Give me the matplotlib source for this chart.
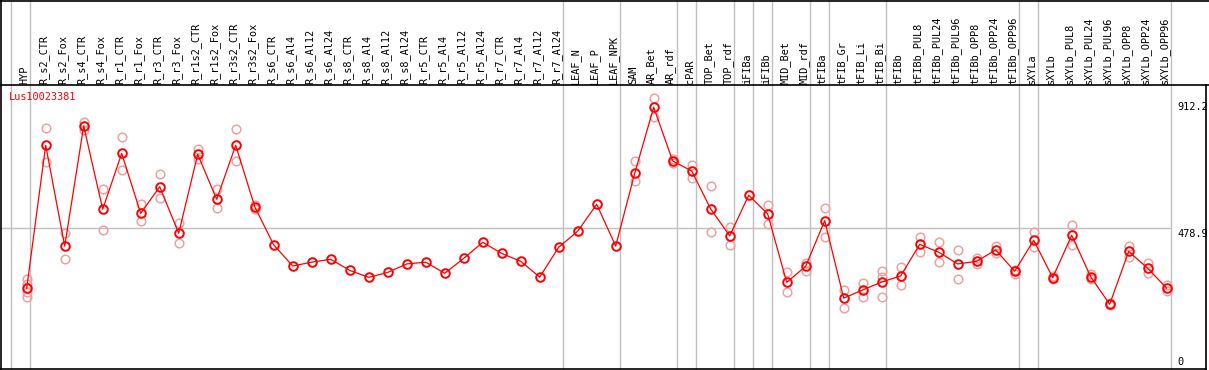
import matplotlib
matplotlib.use("Agg")
from matplotlib import pyplot as plt

# sample names, one column each
samples = [
    "HYP", "R_s2_CTR", "R_s2_Fox", "R_s4_CTR", "R_s4_Fox", "R_r1_CTR", "R_r1_Fox",
    "R_r3_CTR", "R_r3_Fox", "R_r1s2_CTR", "R_r1s2_Fox", "R_r3s2_CTR", "R_r3s2_Fox",
    "R_s6_CTR", "R_s6_Al4", "R_s6_Al12", "R_s6_Al24", "R_s8_CTR", "R_s8_Al4",
    "R_s8_Al12", "R_s8_Al24", "R_r5_CTR", "R_r5_Al4", "R_r5_Al12", "R_r5_Al24",
    "R_r7_CTR", "R_r7_Al4", "R_r7_Al12", "R_r7_Al24", "LEAF_N", "LEAF_P", "LEAF_NPK",
    "SAM", "AR_Bet", "AR_rdf", "cPAR", "TOP_Bet", "TOP_rdf", "iFIBa", "iFIBb",
    "MID_Bet", "MID_rdf", "tFIBa", "tFIB_Gr", "tFIB_Li", "tFIB_Bi", "tFIBb",
    "tFIBb_PUL8", "tFIBb_PUL24", "tFIBb_PUL96", "tFIBb_OPP8", "tFIBb_OPP24",
    "tFIBb_OPP96", "sXYLa", "sXYLb", "sXYLb_PUL8", "sXYLb_PUL24", "sXYLb_PUL96",
    "sXYLb_OPP8", "sXYLb_OPP24", "sXYLb_OPP96",
]

# mean expression per sample
means = [
    273, 762, 417, 828, 543, 734, 529, 620, 461, 731, 577, 762, 552,
    421, 349, 362, 372, 334, 310, 327, 356, 362, 324, 375, 430, 392, 365, 311, 413,
    468, 560, 417, 666, 892, 708, 674, 544, 452, 591, 527, 293, 348,
    504, 239, 267, 294, 315, 423, 396, 356, 365, 404, 331,
    437, 309, 454, 312, 218, 399, 341, 273,
]

# individual replicates per sample (empty when only the mean is shown)
replicates = [
    [303, 287, 260, 243], [820, 704], [461, 372], [842, 814], [611, 472],
    [789, 679], [561, 502], [663, 581], [497, 429], [748, 715], [611, 546],
    [817, 707], [558, 545],
    [], [], [], [], [], [], [], [], [], [], [], [], [], [], [], [], [], [], [],
    [707, 639], [923, 860], [714, 700], [695, 649], [622, 464], [481, 420], [],
    [557, 492], [327, 259], [360, 332], [546, 447], [266, 206], [290, 242],
    [332, 310, 242], [346, 283], [448, 397], [430, 362], [403, 303], [377, 356],
    [418, 392], [322, 336], [464, 415], [314, 304], [488, 420], [320, 304],
    [221, 215], [418, 381], [360, 324], [285, 263],
]

# last sample index of each tissue group
group_ends = [-1, 0, 28, 31, 34, 35, 37, 38, 39, 41, 42, 45, 52, 53, 60]

gene = "Lus10023381"
ytick_values = [912.2, 478.9, 0]

mono = "DejaVu Sans Mono"
fs = 7.4

fig = plt.figure(figsize=(12.09, 3.70), dpi=100)
ax = fig.add_axes([0, 0, 1, 1])

# pixel geometry of the reference
px_per_unit = 140 / 478.9
x_of = lambda px: (px - 26.7) / 19.0
y_of = lambda py: (368 - py) / px_per_unit

ax.set_xlim(x_of(0), x_of(1209))
ax.set_ylim(y_of(370), y_of(0))
ax.axis("off")

top_plot = y_of(85)
n = len(samples)

# group separators
for g in group_ends:
    ax.axvline(g + 0.2, color="#c0c0c0", lw=1.0, zorder=1)

# grid line at the middle value
ax.plot([x_of(1), x_of(1170)], [478.9, 478.9], color="#c0c0c0", lw=1.0, zorder=1)

# frame
ax.plot([x_of(0), x_of(1209)], [y_of(0.5), y_of(0.5)], color="black", lw=1.2, zorder=2)
ax.plot([x_of(0), x_of(1209)], [top_plot, top_plot], color="black", lw=1.2, zorder=2)
ax.plot([x_of(0), x_of(1206)], [y_of(368.5), y_of(368.5)], color="black", lw=1.2, zorder=2)
ax.plot([x_of(1.5), x_of(1.5)], [y_of(0), y_of(369)], color="black", lw=1.2, zorder=2)
ax.plot([x_of(1206), x_of(1206)], [top_plot, y_of(369)], color="black", lw=1.2, zorder=2)

# replicates
for i, reps in enumerate(replicates):
    if reps:
        ax.plot([i] * len(reps), reps, "o", ms=6.2, mfc="none", mec="#f0a0a0",
                mew=1.1, zorder=3, linestyle="none")

# mean line
ax.plot(range(n), means, "-", color="red", lw=0.9, zorder=4)
ax.plot(range(n), means, "o", ms=6.2, mfc="none", mec="red", mew=1.4, zorder=5)

# sample labels
for i, name in enumerate(samples):
    ax.text(i - 0.1, y_of(84), name, rotation=90, ha="center", va="bottom",
            family=mono, fontsize=fs, color="black")

# gene name
ax.text(x_of(9), y_of(97), gene, ha="left", va="center", family=mono,
        fontsize=fs, color="red")

# value labels on the right
for v in ytick_values:
    va = "bottom" if v == 0 else "top"
    ax.text(x_of(1177), v + (3 if v == 0 else -2), f"{v:g}" if v == 0 else f"{v}",
            ha="left", va=va, family=mono, fontsize=fs, color="black")

fig.savefig("out.png", dpi=100)
